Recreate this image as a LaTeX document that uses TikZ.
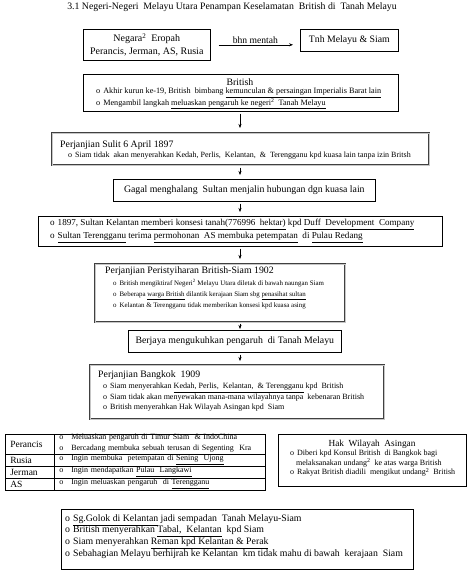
\documentclass[tikz,border=0pt]{standalone}
\usepackage{fontspec}
\setmainfont{Liberation Serif}
\usetikzlibrary{arrows.meta, positioning}
\newcommand{\dua}{\textsuperscript{2}}
\newcommand{\itm}{o\hspace{3pt}}

\begin{document}
\begin{tikzpicture}[x=1pt, y=-1pt,
    box/.style={rectangle, draw, line width=0.6pt, anchor=north west, inner sep=0pt, align=center, font=\fontsize{9.8}{13}\selectfont},
    dblbox/.style={box, draw=black!75, line width=0.5pt, double=gray!45, double distance=1.2pt},
    txt/.style={anchor=west, inner sep=0pt, align=left, font=\fontsize{9.8}{13}\selectfont},
    small/.style={txt, font=\fontsize{8}{9.5}\selectfont},
    cell/.style={rectangle, draw, line width=0.6pt, anchor=north west, inner xsep=5pt, inner ysep=0pt, align=left},
    arrow/.style={-{Stealth[length=4pt, width=3pt]}, thin, shorten <=2pt, shorten >=4pt}
]
    \useasboundingbox (0,0) rectangle (469,576);

    % Title
    \node[txt, anchor=center] (title) at (232,7) {3.1 Negeri-Negeri\ \ Melayu Utara Penampan Keselamatan\ \ British di\ \ Tanah Melayu};

    % Top row
    \node[box, minimum width=127, minimum height=31, font=\fontsize{10}{13}\selectfont] (negara) at (83,29) {Negara\dua\ \ Eropah\\Perancis, Jerman, AS, Rusia};
    \node[box, minimum width=98, minimum height=22] (tnh) at (300,29) {Tnh Melayu \& Siam};
    \draw[arrow, shorten <=8pt, shorten >=7pt] (negara.east) -- (negara.east -| tnh.west)
        node[midway, above, inner sep=1.5pt, font=\fontsize{9.6}{11}\selectfont] {bhn mentah};

    % Chain of boxes
    \node[box, minimum width=315, minimum height=37] (british) at (83,74) {};
    \node[box, minimum width=377, minimum height=32, dblbox] (sulit) at (52,133) {};
    \node[box, minimum width=262, minimum height=22] (gagal) at (113,179) {Gagal menghalang\ \ Sultan menjalin hubungan dgn kuasa lain};
    \node[box, minimum width=404, minimum height=30] (konsesi) at (38,216) {};
    \node[box, minimum width=250, minimum height=58, dblbox] (peris) at (95,264) {};
    \node[box, minimum width=213, minimum height=22] (berjaya) at (128,330) {Berjaya mengukuhkan pengaruh\ \ di Tanah Melayu};
    \node[box, minimum width=294, minimum height=54, dblbox] (bangkok) at (90,365) {};

    % Texts in the boxes
    \node[txt, anchor=center] (britishT) at (240,82) {British};
    \node[small, font=\fontsize{8.2}{9.5}\selectfont] (britishB) at (96,98.5) {\itm Akhir kurun ke-19, British\ \ bimbang \underline{kemunculan \& persaingan Imperialis Barat lain}\\
        \itm Mengambil langkah \underline{meluaskan pengaruh ke negeri\dua\ \ Tanah Melayu}};
    \node[txt] (sulitT) at (60,145) {Perjanjian Sulit 6 April 1897};
    \node[small] (sulitB) at (68,156) {\itm Siam tidak\ \ akan menyerahkan Kedah, Perlis,\ \ Kelantan,\ \ \& \ Terengganu kpd kuasa lain tanpa izin Britsh};
    \node[txt, font=\fontsize{9.1}{13.5}\selectfont] (konsesiB) at (50,231) {\itm 1897, Sultan Kelantan \underline{memberi konsesi tanah(776996\ \ hektar)} kpd \underline{Duff\ \ Development\ \ Company}\\
        \itm \underline{Sultan Terengganu} terima \underline{permohonan\ \ AS membuka petempatan}\ \ di \underline{Pulau Redang}};
    \node[txt] (perisT) at (105,271) {Perjanjian Peristyiharan British-Siam 1902};
    \node[small, font=\fontsize{6.9}{11}\selectfont] (perisB) at (113,294) {\itm British mengiktiraf Negeri\dua\ Melayu Utara diletak di bawah naungan Siam\\
        \itm Beberapa \underline{warga British} dilantik kerajaan Siam sbg \underline{penasihat sultan}\\
        \itm Kelantan \& Terengganu tidak memberikan konsesi kpd kuasa asing};
    \node[txt] (bangkokT) at (98,375) {Perjanjian Bangkok\ \ 1909};
    \node[small, font=\fontsize{8}{10.5}\selectfont] (bangkokB) at (103,397.5) {\itm Siam menyerahkan \underline{Kedah, Perlis,\ \ Kelantan,\ \ \& Terengganu} kpd\ \ British\\
        \itm Siam tidak akan menyewakan mana-mana wilayahnya tanpa\ \ kebenaran British\\
        \itm British menyerahkan Hak Wilayah Asingan kpd\ \ Siam};

    % Arrows
    \coordinate (spine) at (240,0);
    \draw[arrow, shorten >=5pt] (british.south -| spine) -- (sulit.north -| spine);
    \draw[arrow] (sulit.south -| spine) -- (gagal.north -| spine);
    \draw[arrow] (gagal.south -| spine) -- (konsesi.north -| spine);
    \draw[arrow, shorten >=5pt] (konsesi.south -| spine) -- (peris.north -| spine);
    \draw[arrow, shorten <=1pt, shorten >=1pt] (peris.south -| spine) -- (berjaya.north -| spine);
    \draw[arrow] (berjaya.south -| spine) -- (bangkok.north -| spine);

    % Table of powers
    \node[cell, minimum width=49, minimum height=19.5, text width=39, font=\fontsize{9.5}{11}\selectfont] (perancis) at (5,434) {Perancis};
    \node[cell, minimum width=49, minimum height=12.5, text width=39, font=\fontsize{9.5}{11}\selectfont] (rusia) at (5,453.5) {Rusia};
    \node[cell, minimum width=49, minimum height=11.5, text width=39, font=\fontsize{9.5}{11}\selectfont] (jerman) at (5,466) {Jerman};
    \node[cell, minimum width=49, minimum height=12.5, text width=39, font=\fontsize{9.5}{11}\selectfont] (as) at (5,477.5) {AS};
    \node[cell, minimum width=211, minimum height=19.5, text width=201, font=\fontsize{8}{11}\selectfont] (perancisI) at (54,434) {o\hspace{8pt}Meluaskan pengaruh di Timur Siam\ \ \& IndoChina\\
        o\hspace{8pt}Bercadang membuka sebuah terusan di \underline{Segenting\ \ Kra}};
    \node[cell, minimum width=211, minimum height=12.5, text width=201, font=\fontsize{8}{11}\selectfont] (rusiaI) at (54,453.5) {o\hspace{8pt}Ingin membuka\ \ petempatan di \underline{Sening\ \ Ujong}};
    \node[cell, minimum width=211, minimum height=11.5, text width=201, font=\fontsize{8}{11}\selectfont] (jermanI) at (54,466) {o\hspace{8pt}Ingin mendapatkan \underline{Pulau\ \ Langkawi}};
    \node[cell, minimum width=211, minimum height=12.5, text width=201, font=\fontsize{8}{11}\selectfont] (asI) at (54,477.5) {o\hspace{8pt}Ingin meluaskan pengaruh\ \ di \underline{Terengganu}};

    % Hak Wilayah Asingan
    \node[box, minimum width=188, minimum height=52] (hak) at (278,434) {};
    \node[txt, anchor=center, font=\fontsize{9.3}{11}\selectfont] (hakT) at (372,444) {Hak\ \ Wilayah\ \ Asingan};
    \node[small] (hakB) at (290,463.5) {\itm Diberi kpd Konsul British\ \ di Bangkok bagi\\
        \hspace{6pt}melaksanakan undang\dua\ \ ke atas warga British\\
        \itm Rakyat British diadili\ \ mengikut undang\dua\ \ British};

    % Akibat
    \node[box, minimum width=352, minimum height=60] (akibat) at (61,509) {};
    \node[txt, font=\fontsize{9.8}{11.7}\selectfont] (akibatB) at (65,536.5) {\itm \underline{Sg.Golok di Kelantan} jadi sempadan\ \ Tanah Melayu-Siam\\
        \itm British menyerahkan \underline{Tabal,\ \ Kelantan}\ \ kpd Siam\\
        \itm Siam menyerahkan \underline{Reman kpd Kelantan \& Perak}\\
        \itm Sebahagian Melayu berhijrah ke Kelantan\ \ km tidak mahu di bawah\ \ kerajaan\ \ Siam};
\end{tikzpicture}
\end{document}
